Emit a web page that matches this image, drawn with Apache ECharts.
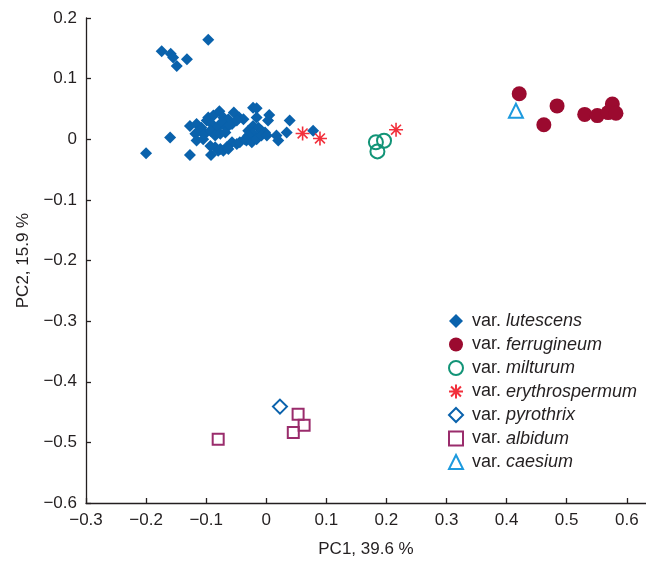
<!DOCTYPE html>
<html>
<head>
<meta charset="utf-8">
<script src="https://cdn.jsdelivr.net/npm/echarts@6/dist/echarts.min.js"></script>
<style>
  html, body { margin: 0; padding: 0; background: #fff; }
  #chart { width: 646px; height: 564px; }
</style>
</head>
<body>
<div id="chart"></div>
<script>
// PCA scores, [PC1, PC2]
const lutescens = [
  [-0.0965, 0.164], [-0.174, 0.145], [-0.159, 0.141], [-0.155, 0.135], [-0.149, 0.121], [-0.132, 0.132],
  [-0.0965, 0.036], [-0.088, 0.039], [-0.078, 0.046], [-0.0715, 0.036], [-0.063, 0.033], [-0.054, 0.044],
  [-0.045, 0.036], [-0.038, 0.033], [-0.022, 0.052], [-0.016, 0.051], [-0.016, 0.036], [0.005, 0.040],
  [0.003, 0.031], [0.039, 0.031], [-0.127, 0.022], [-0.116, 0.025], [-0.108, 0.019], [-0.099, 0.031],
  [-0.0905, 0.025], [-0.082, 0.019], [-0.074, 0.028], [-0.066, 0.019], [-0.057, 0.025], [-0.049, 0.031],
  [-0.118, 0.009], [-0.110, 0.014], [-0.102, 0.009], [-0.093, 0.014], [-0.085, 0.006], [-0.0765, 0.009],
  [-0.068, 0.011], [-0.022, 0.022], [-0.013, 0.019], [-0.008, 0.014], [-0.002, 0.011], [-0.030, 0.014],
  [-0.022, 0.009], [0.034, 0.011], [0.078, 0.014], [-0.116, -0.002], [-0.105, 0.000], [-0.093, -0.011],
  [-0.085, -0.013], [-0.0765, -0.016], [-0.066, -0.013], [-0.057, -0.005], [-0.049, -0.008], [-0.044, -0.005],
  [-0.0355, 0.000], [-0.030, 0.006], [-0.033, -0.002], [-0.024, -0.005], [-0.016, 0.000], [-0.008, 0.006],
  [0.001, 0.006], [0.017, 0.006], [0.020, -0.002], [-0.092, -0.026], [-0.080, -0.019], [-0.0715, -0.019],
  [-0.063, -0.016], [-0.200, -0.023], [-0.160, 0.003], [-0.127, -0.026]
];
const ferrugineum = [
  [0.421, 0.075], [0.484, 0.055], [0.462, 0.024], [0.530, 0.041],
  [0.551, 0.039], [0.576, 0.058], [0.569, 0.044], [0.582, 0.043]
];
const milturum = [[0.1825, -0.005], [0.196, -0.0025], [0.185, -0.020]];
const erythrospermum = [[0.0605, 0.0096], [0.0894, 0.0013], [0.216, 0.0157]];
const pyrothrix = [[0.0228, -0.441]];
const albidum = [[-0.080, -0.495], [0.053, -0.4535], [0.063, -0.4716], [0.045, -0.4838]];
const caesium = [[0.4155, 0.047]];

const xTicks = { min: -0.3, max: 0.632, step: 0.1 };
const yTicks = { min: -0.6, max: 0.2, step: 0.1 };

const ink = '#231f20';
const font = 'Liberation Sans';
const star = 'path://M5,0L5,10M0,5L10,5M1.46,1.46L8.54,8.54M1.46,8.54L8.54,1.46';

const fmt = v => {
  if (Math.abs(v) < 1e-9) return '0';
  return (v < 0 ? '\u2212' : '') + Math.abs(v).toFixed(1);
};

const chart = echarts.init(document.getElementById('chart'));
chart.setOption({
  animation: false,
  grid: { left: 86, right: 0, top: 18, bottom: 61 },
  legend: {
    orient: 'vertical',
    left: 448,
    top: 312,
    padding: 0,
    itemWidth: 14,
    itemHeight: 14,
    itemGap: 5.5,
    formatter: n => '{a|var. }{b|' + n + '}',
    textStyle: {
      rich: {
        a: { fontFamily: font, fontSize: 18, color: ink, padding: [0, 0, 0, 4] },
        b: { fontFamily: font, fontSize: 18, color: ink, fontStyle: 'italic' }
      }
    }
  },
  xAxis: {
    type: 'value',
    min: xTicks.min, max: xTicks.max, interval: xTicks.step,
    name: 'PC1, 39.6 %', nameLocation: 'middle', nameGap: 38,
    nameTextStyle: { fontFamily: font, fontSize: 17, color: ink },
    axisLine: { onZero: false, lineStyle: { color: ink, width: 1.3 } },
    axisTick: { inside: true, length: 5, lineStyle: { color: ink, width: 1.3 } },
    axisLabel: { showMaxLabel: false, margin: 9, fontFamily: font, fontSize: 17, color: ink, formatter: fmt },
    splitLine: { show: false }
  },
  yAxis: {
    type: 'value',
    min: yTicks.min, max: yTicks.max, interval: yTicks.step,
    name: 'PC2, 15.9 %', nameLocation: 'middle', nameGap: 54,
    nameTextStyle: { fontFamily: font, fontSize: 17, color: ink },
    axisLine: { onZero: false, lineStyle: { color: ink, width: 1.3 } },
    axisTick: { inside: true, length: 5, lineStyle: { color: ink, width: 1.3 } },
    axisLabel: { margin: 9, fontFamily: font, fontSize: 17, color: ink, formatter: fmt },
    splitLine: { show: false }
  },
  series: [
    { name: 'lutescens', type: 'scatter', data: lutescens, symbol: 'diamond', symbolSize: 12,
      itemStyle: { color: '#0a62ac', opacity: 1 } },
    { name: 'ferrugineum', type: 'scatter', data: ferrugineum, symbol: 'circle', symbolSize: 15,
      itemStyle: { color: '#9b0a2f', opacity: 1 } },
    { name: 'milturum', type: 'scatter', data: milturum, symbol: 'circle', symbolSize: 14,
      itemStyle: { color: 'rgba(255,255,255,0)', borderColor: '#129477', borderWidth: 2, opacity: 1 } },
    { name: 'erythrospermum', type: 'scatter', data: erythrospermum, symbol: star, symbolSize: 14,
      itemStyle: { color: 'rgba(255,255,255,0)', borderColor: '#f2303c', borderWidth: 1.6, opacity: 1 } },
    { name: 'pyrothrix', type: 'scatter', data: pyrothrix, symbol: 'diamond', symbolSize: 14,
      itemStyle: { color: 'rgba(255,255,255,0)', borderColor: '#0a62ac', borderWidth: 2, opacity: 1 } },
    { name: 'albidum', type: 'scatter', data: albidum, symbol: 'rect', symbolSize: 11,
      itemStyle: { color: 'rgba(255,255,255,0)', borderColor: '#9a2c6c', borderWidth: 2, opacity: 1 } },
    { name: 'caesium', type: 'scatter', data: caesium, symbol: 'triangle', symbolSize: 14,
      itemStyle: { color: 'rgba(255,255,255,0)', borderColor: '#1d9ade', borderWidth: 2, opacity: 1 } }
  ]
});
</script>
</body>
</html>
